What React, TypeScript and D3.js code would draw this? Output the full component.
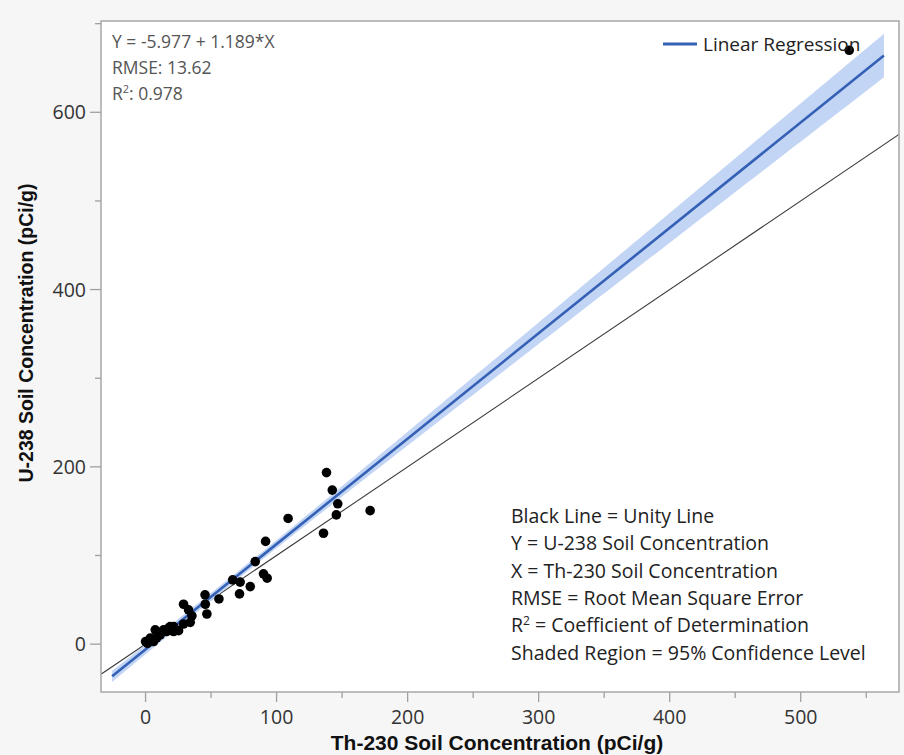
import React from "react";
import * as d3 from "d3";

// Th-230 (x) and U-238 (y) soil concentrations, pCi/g
const th230 = [537, 138.1, 142.5, 146.7, 145.6, 171.4, 135.8, 108.8, 91.6, 83.7, 90, 92.8, 66.5, 72.2, 79.9, 71.7, 56, 45.4, 45.6, 46.8, 29, 32.8, 35.4, 34.1, 29, 25.2, 21.4, 18.8, 21.4, 16, 13.7, 7.4, 11.2, 3.6, 0, 6.1, 17.5, 10, 1.5, 8.5];
const u238 = [670, 193.5, 173.8, 158.3, 145.8, 150.6, 125.1, 141.8, 115.9, 93.1, 79.3, 74.4, 72.5, 70, 64.9, 56.7, 51, 55.6, 45, 34, 45, 38.7, 32, 24.6, 22.7, 15.2, 19.8, 19.8, 14.2, 14.2, 16.1, 16.1, 10.5, 6.8, 2.9, 2.9, 18, 12, 1, 7];

const intercept = -5.977;
const slope = 1.189;
const rmse = 13.62;
const tCrit = 2.02;
const fitRange = [-25.5, 563.5];

const xMajorTicks = [0, 100, 200, 300, 400, 500];
const xMinorTicks = [50, 150, 250, 350, 450, 550];
const yMajorTicks = [0, 200, 400, 600];
const yMinorTicks = [100, 300, 500, 700];

const statLines = ["Y =  -5.977 + 1.189*X", "RMSE: 13.62"];
const noteLines = [
  "Black Line = Unity Line",
  "Y = U-238 Soil Concentration",
  "X = Th-230 Soil Concentration",
  "RMSE = Root Mean Square Error",
  "R2",
  "Shaded Region = 95% Confidence Level",
];

const W = 904, H = 755;
const L = 101, R = 899, T = 21, B = 692;
const UI = "'Open Sans', 'Noto Sans', sans-serif";
const BOLD = "'Liberation Sans', Arial, sans-serif";

export default function App() {
  const x = d3.scaleLinear().domain([-34, 575]).range([L, R]);
  const y = d3.scaleLinear().domain([-54, 703]).range([B, T]);

  const n = th230.length;
  const xbar = d3.mean(th230) as number;
  const sxx = d3.sum(th230, (v) => (v - xbar) ** 2);
  const halfWidth = (v: number) => tCrit * rmse * Math.sqrt(1 / n + (v - xbar) ** 2 / sxx);
  const fit = (v: number) => intercept + slope * v;

  const bandXs = d3.range(fitRange[0], fitRange[1] + 0.01, (fitRange[1] - fitRange[0]) / 120);
  const area = d3
    .area<number>()
    .x((v) => x(v))
    .y0((v) => y(fit(v) - halfWidth(v)))
    .y1((v) => y(fit(v) + halfWidth(v)));
  const line = d3
    .line<number>()
    .x((v) => x(v))
    .y((v) => y(fit(v)));

  const tickColor = "#a0a0a0";
  return (
    <svg width={W} height={H} style={{ position: "absolute", left: 0, top: 0 }}>
      <rect x={0} y={0} width={W} height={H} fill="#f6f6f6" />
      <defs>
        <clipPath id="plotClip">
          <rect x={L} y={T} width={R - L} height={B - T} />
        </clipPath>
      </defs>
      <rect x={L} y={T} width={R - L} height={B - T} fill="#ffffff" />
      <g clipPath="url(#plotClip)">
        <line x1={x(-34)} y1={y(-34)} x2={x(575)} y2={y(575)} stroke="#3a3a3a" strokeWidth={1.1} />
        <path d={area(bandXs) || ""} fill="#c3d5f4" />
        <path d={line(fitRange) || ""} stroke="#3460b6" strokeWidth={2.6} fill="none" />
        {th230.map((v, i) => (
          <circle key={i} cx={x(v)} cy={y(u238[i])} r={4.8} fill="#000" />
        ))}
      </g>
      <rect x={L} y={T} width={R - L} height={B - T} fill="none" stroke="#a8a8a8" strokeWidth={1.5} />
      {/* x axis ticks */}
      {xMajorTicks.map((t) => (
        <g key={"xm" + t}>
          <line x1={x(t)} x2={x(t)} y1={B} y2={B + 10} stroke={tickColor} strokeWidth={1.3} />
          <text x={x(t)} y={724} textAnchor="middle" fontFamily={UI} fontSize={19.5} fill="#333">{t}</text>
        </g>
      ))}
      {xMinorTicks.map((t) => (
        <line key={"xn" + t} x1={x(t)} x2={x(t)} y1={B} y2={B + 6} stroke={tickColor} strokeWidth={1.3} />
      ))}
      {yMajorTicks.map((t) => (
        <g key={"ym" + t}>
          <line x1={L - 11} x2={L} y1={y(t)} y2={y(t)} stroke={tickColor} strokeWidth={1.3} />
          <text x={L - 15} y={y(t) + 7} textAnchor="end" fontFamily={UI} fontSize={19.5} fill="#333">{t}</text>
        </g>
      ))}
      {yMinorTicks.map((t) => (
        <line key={"yn" + t} x1={L - 6} x2={L} y1={y(t)} y2={y(t)} stroke={tickColor} strokeWidth={1.3} />
      ))}
      {/* axis titles */}
      <text x={497} y={750} textAnchor="middle" fontFamily={BOLD} fontWeight="bold" fontSize={21} fill="#111">
        Th-230 Soil Concentration (pCi/g)
      </text>
      <text transform={`translate(33, 333) rotate(-90)`} textAnchor="middle" fontFamily={BOLD} fontWeight="bold" fontSize={19.5} fill="#111">
        U-238 Soil Concentration (pCi/g)
      </text>
      {/* stats */}
      {statLines.map((s, i) => (
        <text key={s} x={112} y={48 + i * 26} fontFamily={UI} fontSize={17.5} fill="#555">{s}</text>
      ))}
      <text x={112} y={100} fontFamily={UI} fontSize={17.5} fill="#555">
        R<tspan dy={-7} fontSize={11}>2</tspan><tspan dy={7}>: 0.978</tspan>
      </text>
      {/* legend */}
      <line x1={663} x2={697} y1={44} y2={44} stroke="#3460b6" strokeWidth={3} />
      <text x={703} y={51} fontFamily={UI} fontSize={19} fill="#222">Linear Regression</text>
      {/* notes */}
      {noteLines.map((s, i) =>
        s === "R2" ? (
          <text key={s} x={511} y={523 + i * 27.3} fontFamily={UI} fontSize={19.5} fill="#222">
            R<tspan dy={-7} fontSize={12}>2</tspan><tspan dy={7}> = Coefficient of Determination</tspan>
          </text>
        ) : (
          <text key={s} x={511} y={523 + i * 27.3} fontFamily={UI} fontSize={19.5} fill="#222">{s}</text>
        )
      )}
    </svg>
  );
}
